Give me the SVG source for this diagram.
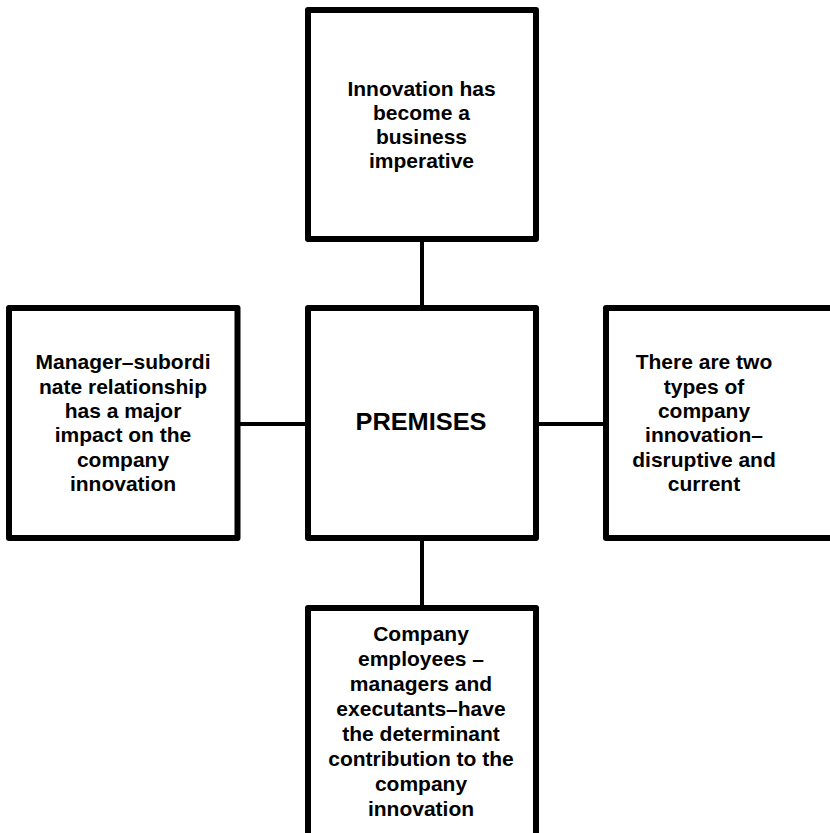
<svg xmlns="http://www.w3.org/2000/svg" width="830" height="833" viewBox="0 0 830 833">
<style>
.box{fill:#fff;stroke:#000;stroke-width:6;stroke-linejoin:round}
.con{stroke:#000;stroke-width:4;fill:none}
.t{font-family:"Liberation Sans",Arial,sans-serif;font-weight:bold;font-size:21px;fill:#000;text-anchor:middle}
.big{font-size:24px}
</style>
<rect width="830" height="833" fill="#fff"/>
<g id="connectors">
<line class="con" x1="422" y1="239" x2="422" y2="308"/>
<line class="con" x1="422" y1="538" x2="422" y2="608"/>
<line class="con" x1="237" y1="424" x2="308" y2="424"/>
<line class="con" x1="536" y1="424" x2="606" y2="424"/>
</g>
<g id="top">
<rect class="box" x="308" y="10" width="228" height="229"/>
<text class="t"><tspan x="421.5" y="95.5">Innovation has</tspan><tspan x="421.5" y="119.8">become a</tspan><tspan x="421.5" y="144.1">business</tspan><tspan x="421.5" y="168.4">imperative</tspan></text>
</g>
<g id="center">
<rect class="box" x="308" y="308" width="228" height="230"/>
<text class="t big" x="421" y="429.5" textLength="131" lengthAdjust="spacingAndGlyphs">PREMISES</text>
</g>
<g id="left">
<rect class="box" x="9" y="308" width="228.5" height="230"/>
<text class="t"><tspan x="123" y="369.3">Manager–subordi</tspan><tspan x="123" y="393.6">nate relationship</tspan><tspan x="123" y="417.9">has a major</tspan><tspan x="123" y="442.2">impact on the</tspan><tspan x="123" y="466.5">company</tspan><tspan x="123" y="490.8">innovation</tspan></text>
</g>
<g id="right">
<rect class="box" x="606" y="308" width="228" height="230"/>
<text class="t"><tspan x="704" y="369.3">There are two</tspan><tspan x="704" y="393.6">types of</tspan><tspan x="704" y="417.9">company</tspan><tspan x="704" y="442.2">innovation–</tspan><tspan x="704" y="466.5">disruptive and</tspan><tspan x="704" y="490.8">current</tspan></text>
</g>
<g id="bottom">
<rect class="box" x="308" y="608" width="228" height="230"/>
<text class="t"><tspan x="421" y="640.7">Company</tspan><tspan x="421" y="665.8">employees –</tspan><tspan x="421" y="690.9">managers and</tspan><tspan x="421" y="716">executants–have</tspan><tspan x="421" y="741.1">the determinant</tspan><tspan x="421" y="766.2">contribution to the</tspan><tspan x="421" y="791.3">company</tspan><tspan x="421" y="816.4">innovation</tspan></text>
</g>
</svg>
